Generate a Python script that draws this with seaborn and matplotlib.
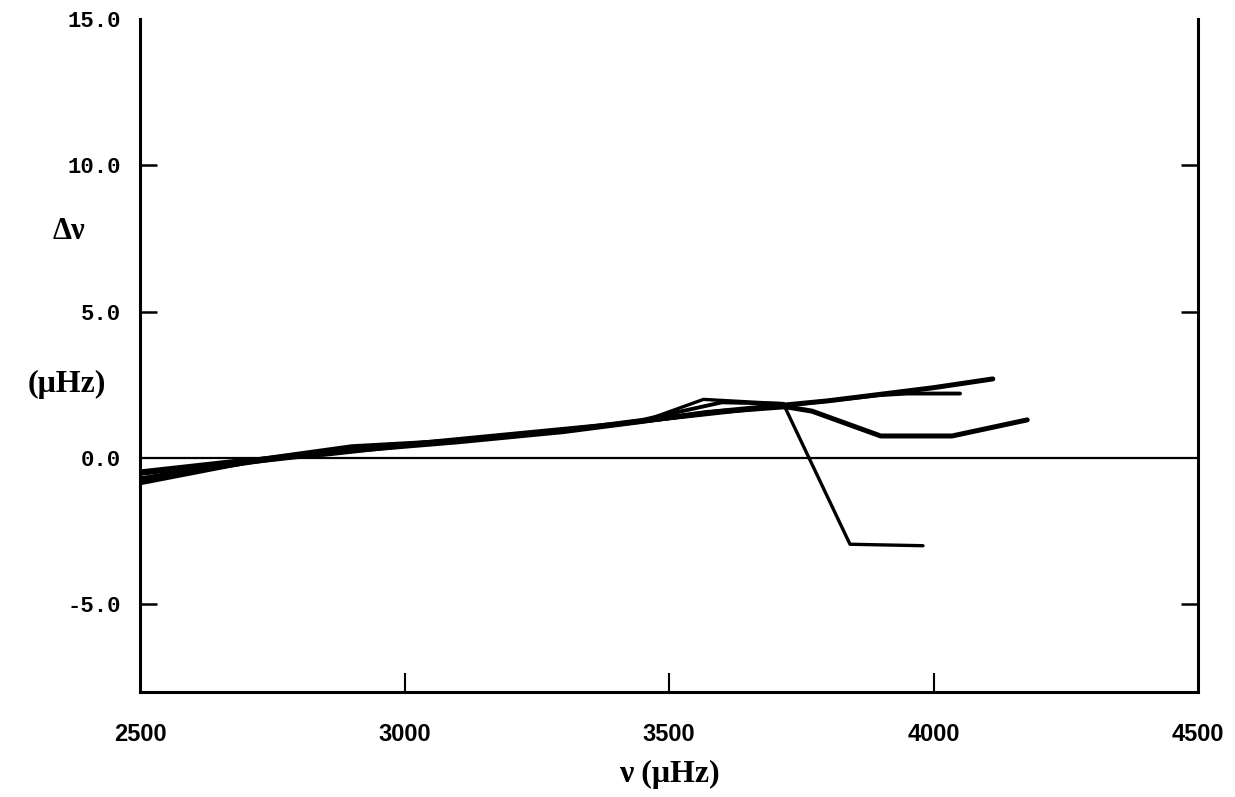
import pandas as pd
import numpy as np
import matplotlib.pyplot as plt
import seaborn as sns

# frequency (muHz) and frequency difference (muHz) for each curve
nu_a = [2500, 2650, 2800, 3000, 3200, 3400, 3600, 3800, 4000, 4112]
dnu_a = [-0.75, -0.3, 0.1, 0.45, 0.8, 1.15, 1.6, 1.95, 2.4, 2.7]

nu_b = [2500, 2700, 2900, 3100, 3300, 3500, 3700, 3900, 3950, 4050]
dnu_b = [-0.55, -0.1, 0.35, 0.6, 0.95, 1.35, 1.75, 2.15, 2.2, 2.2]

nu_c = [2500, 2700, 2900, 3100, 3300, 3450, 3570, 3720, 3770, 3900, 4035, 4177]
dnu_c = [-0.85, -0.15, 0.25, 0.55, 0.9, 1.25, 1.55, 1.75, 1.6, 0.75, 0.75, 1.3]

nu_d = [2500, 2700, 2850, 3000, 3200, 3450, 3565, 3716, 3842, 3980]
dnu_d = [-0.45, -0.05, 0.1, 0.4, 0.8, 1.25, 2.0, 1.85, -2.95, -3.0]

nu_e = [2500, 2700, 2900, 3100, 3300, 3450, 3600, 3716]
dnu_e = [-0.7, -0.1, 0.4, 0.6, 0.95, 1.3, 1.9, 1.85]

x_ticks = [2500, 3000, 3500, 4000, 4500]
y_ticks = [-5.0, 0.0, 5.0, 10.0, 15.0]

sns.set_style('white')

curves = pd.concat([
    pd.DataFrame({'nu': nu_a, 'dnu': dnu_a, 'curve': 'a'}),
    pd.DataFrame({'nu': nu_b, 'dnu': dnu_b, 'curve': 'b'}),
    pd.DataFrame({'nu': nu_c, 'dnu': dnu_c, 'curve': 'c'}),
    pd.DataFrame({'nu': nu_d, 'dnu': dnu_d, 'curve': 'd'}),
    pd.DataFrame({'nu': nu_e, 'dnu': dnu_e, 'curve': 'e'}),
])
widths = {'a': 3.6, 'b': 2.8, 'c': 3.6, 'd': 2.4, 'e': 2.8}

fig = plt.figure(figsize=(12.35, 7.97), dpi=100)
ax = fig.add_axes([0.1134, 0.1317, 0.8567, 0.8445])

for name, grp in curves.groupby('curve'):
    sns.lineplot(data=grp, x='nu', y='dnu', color='black', lw=widths[name],
                 sort=False, estimator=None, solid_capstyle='round', ax=ax)

ax.axhline(0, color='black', lw=1.6, zorder=0)

ax.set_xlim(2500, 4500)
ax.set_ylim(-8, 15)
ax.set_xticks(x_ticks)
ax.set_yticks(y_ticks)
ax.set_xticklabels([str(v) for v in x_ticks], fontfamily='Liberation Sans',
                   fontweight='bold', fontsize=17, color='black')
ax.set_yticklabels([f'{v:.1f}' for v in y_ticks],
                   fontfamily='Liberation Mono', fontweight='bold', fontsize=16,
                   color='black')
ax.tick_params(axis='x', direction='in', length=14, width=1.5, pad=22,
               color='black', top=False, bottom=True)
ax.tick_params(axis='y', direction='in', length=12, width=1.8, pad=14,
               right=True, left=True, color='black')

# no tick marks at the ends of the axes, only labels
for t in [ax.xaxis.get_major_ticks()[0], ax.xaxis.get_major_ticks()[-1],
          ax.yaxis.get_major_ticks()[-1], ax.yaxis.get_major_ticks()[1]]:
    t.tick1line.set_visible(False)
    t.tick2line.set_visible(False)

for side in ['left', 'right', 'bottom']:
    ax.spines[side].set_linewidth(2.2)
    ax.spines[side].set_color('black')
ax.spines['top'].set_visible(False)

ax.set_xlabel('')
ax.set_ylabel('')

fig.text(0.542, 0.028, 'ν (μHz)', ha='center', va='center', color='black',
         fontfamily='Liberation Serif', fontweight='bold', fontsize=23)
fig.text(0.056, 0.709, 'Δν', ha='center', va='center', color='black',
         fontfamily='Liberation Serif', fontweight='bold', fontsize=22)
fig.text(0.054, 0.517, '(μHz)', ha='center', va='center', color='black',
         fontfamily='Liberation Serif', fontweight='bold', fontsize=23)

fig.savefig('out.png', dpi=100)
